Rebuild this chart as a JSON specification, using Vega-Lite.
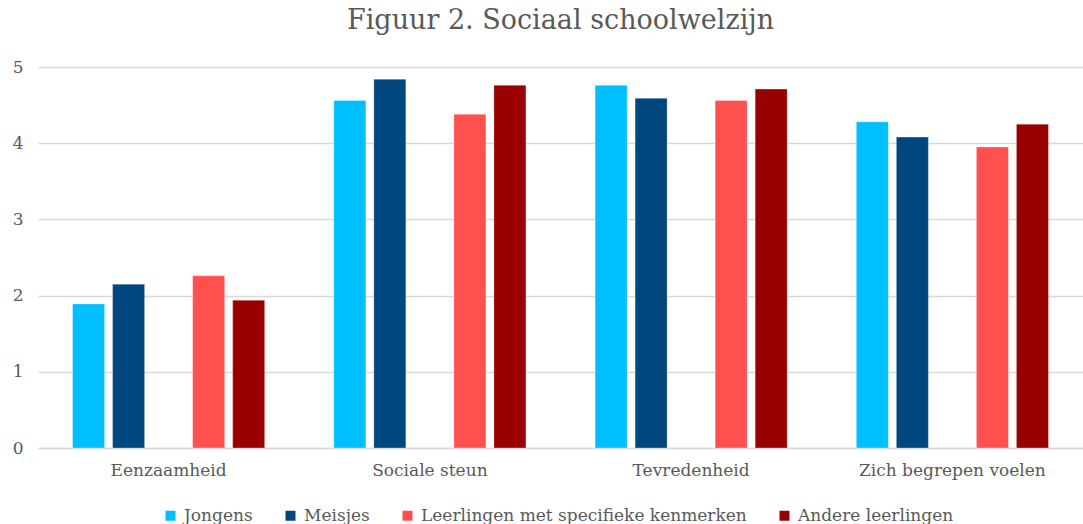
{
  "$schema": "https://vega.github.io/schema/vega-lite/v6.json",
  "width": 1045,
  "height": 381,
  "autosize": {"type": "none"},
  "padding": {"left": 38, "top": 67, "right": 0, "bottom": 76},
  "background": "white",
  "title": {
    "text": "Figuur 2. Sociaal schoolwelzijn",
    "font": "DejaVu Serif",
    "fontSize": 27,
    "fontWeight": "normal",
    "color": "#595959",
    "anchor": "middle",
    "frame": "group",
    "offset": 23
  },
  "config": {
    "view": {"stroke": null},
    "font": "DejaVu Serif"
  },
  "data": {
    "values": [
      {"categorie": "Eenzaamheid", "groep": "Jongens", "waarde": 1.89},
      {"categorie": "Eenzaamheid", "groep": "Meisjes", "waarde": 2.15},
      {"categorie": "Eenzaamheid", "groep": "Leerlingen met specifieke kenmerken", "waarde": 2.26},
      {"categorie": "Eenzaamheid", "groep": "Andere leerlingen", "waarde": 1.94},
      {"categorie": "Sociale steun", "groep": "Jongens", "waarde": 4.56},
      {"categorie": "Sociale steun", "groep": "Meisjes", "waarde": 4.84},
      {"categorie": "Sociale steun", "groep": "Leerlingen met specifieke kenmerken", "waarde": 4.38},
      {"categorie": "Sociale steun", "groep": "Andere leerlingen", "waarde": 4.76},
      {"categorie": "Tevredenheid", "groep": "Jongens", "waarde": 4.76},
      {"categorie": "Tevredenheid", "groep": "Meisjes", "waarde": 4.59},
      {"categorie": "Tevredenheid", "groep": "Leerlingen met specifieke kenmerken", "waarde": 4.56},
      {"categorie": "Tevredenheid", "groep": "Andere leerlingen", "waarde": 4.71},
      {"categorie": "Zich begrepen voelen", "groep": "Jongens", "waarde": 4.28},
      {"categorie": "Zich begrepen voelen", "groep": "Meisjes", "waarde": 4.08},
      {"categorie": "Zich begrepen voelen", "groep": "Leerlingen met specifieke kenmerken", "waarde": 3.95},
      {"categorie": "Zich begrepen voelen", "groep": "Andere leerlingen", "waarde": 4.25}
    ]
  },
  "mark": {"type": "bar", "stroke": "white", "strokeWidth": 0.5, "strokeOpacity": 0.6},
  "encoding": {
    "x": {
      "field": "categorie",
      "type": "nominal",
      "sort": null,
      "scale": {"paddingInner": 0.234, "paddingOuter": 0.117},
      "axis": {
        "title": null,
        "labelAngle": 0,
        "labelFont": "DejaVu Serif",
        "labelFontSize": 17,
        "labelColor": "#595959",
        "labelPadding": 14,
        "labelLimit": 400,
        "ticks": false,
        "domain": true,
        "domainColor": "#d9d9d9",
        "domainWidth": 1.5
      }
    },
    "xOffset": {
      "field": "groep",
      "type": "nominal",
      "scale": {
        "domain": ["Jongens", "Meisjes", "gap", "Leerlingen met specifieke kenmerken", "Andere leerlingen"],
        "paddingInner": 0.2,
        "paddingOuter": 0.1
      }
    },
    "y": {
      "field": "waarde",
      "type": "quantitative",
      "scale": {"domain": [0, 5], "nice": false},
      "axis": {
        "title": null,
        "values": [0, 1, 2, 3, 4, 5],
        "labelFont": "DejaVu Serif",
        "labelFontSize": 17,
        "labelColor": "#595959",
        "labelPadding": 15,
        "ticks": false,
        "domain": false,
        "gridColor": "#d9d9d9",
        "gridWidth": 1.5
      }
    },
    "color": {
      "field": "groep",
      "type": "nominal",
      "scale": {
        "domain": ["Jongens", "Meisjes", "Leerlingen met specifieke kenmerken", "Andere leerlingen"],
        "range": ["#00BFFF", "#00467F", "#FF5050", "#990000"]
      },
      "legend": {
        "title": null,
        "orient": "none",
        "legendX": 124,
        "legendY": 440,
        "direction": "horizontal",
        "symbolType": "square",
        "symbolSize": 100,
        "symbolStrokeWidth": 0,
        "labelFont": "DejaVu Serif",
        "labelFontSize": 17,
        "labelColor": "#595959",
        "labelOffset": 5,
        "columnPadding": 29,
        "labelLimit": 400
      }
    }
  }
}
